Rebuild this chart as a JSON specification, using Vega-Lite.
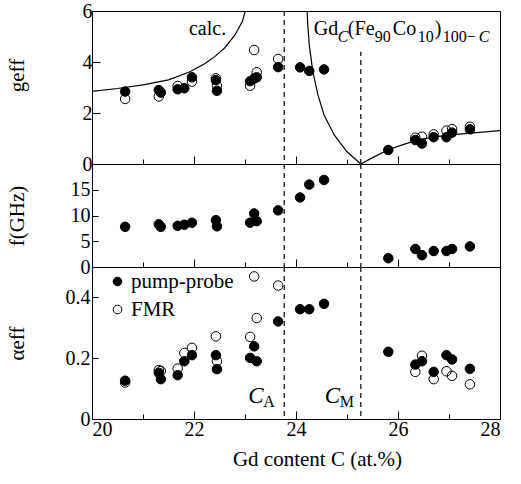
{
  "$schema": "https://vega.github.io/schema/vega-lite/v6.json",
  "padding": {"left": 5, "top": 0, "right": 5, "bottom": 5},
  "background": "white",
  "spacing": 0,
  "bounds": "flush",
  "config": {
    "font": "Liberation Serif",
    "view": {"stroke": "black", "strokeWidth": 1},
    "axis": {"labelFont": "Liberation Serif", "labelFontSize": 20, "titleFont": "Liberation Serif", "titleFontSize": 21, "titleFontWeight": "normal", "labelColor": "black", "titleColor": "black", "tickColor": "black", "domain": false, "grid": false},
    "legend": {"labelFont": "Liberation Serif", "labelFontSize": 21, "labelColor": "black"}
  },
  "resolve": {"scale": {"fill": "independent"}, "legend": {"fill": "independent"}},
  "datasets": {
    "g": [
      {"C": 20.65, "m": "pump-probe", "v": 2.84}, {"C": 21.31, "m": "pump-probe", "v": 2.90}, {"C": 21.35, "m": "pump-probe", "v": 2.80},
      {"C": 21.68, "m": "pump-probe", "v": 2.93}, {"C": 21.81, "m": "pump-probe", "v": 2.97}, {"C": 21.96, "m": "pump-probe", "v": 3.40},
      {"C": 22.43, "m": "pump-probe", "v": 3.29}, {"C": 22.45, "m": "pump-probe", "v": 2.87}, {"C": 23.10, "m": "pump-probe", "v": 3.25},
      {"C": 23.18, "m": "pump-probe", "v": 3.35}, {"C": 23.23, "m": "pump-probe", "v": 3.40}, {"C": 23.65, "m": "pump-probe", "v": 3.80},
      {"C": 24.08, "m": "pump-probe", "v": 3.79}, {"C": 24.26, "m": "pump-probe", "v": 3.65}, {"C": 24.55, "m": "pump-probe", "v": 3.71},
      {"C": 25.81, "m": "pump-probe", "v": 0.55}, {"C": 26.34, "m": "pump-probe", "v": 0.94}, {"C": 26.47, "m": "pump-probe", "v": 0.80},
      {"C": 26.70, "m": "pump-probe", "v": 1.05}, {"C": 26.95, "m": "pump-probe", "v": 1.05}, {"C": 27.06, "m": "pump-probe", "v": 1.23},
      {"C": 27.41, "m": "pump-probe", "v": 1.36},
      {"C": 20.65, "m": "FMR", "v": 2.55}, {"C": 21.31, "m": "FMR", "v": 2.65}, {"C": 21.68, "m": "FMR", "v": 3.06},
      {"C": 21.96, "m": "FMR", "v": 3.23}, {"C": 22.43, "m": "FMR", "v": 3.36}, {"C": 22.45, "m": "FMR", "v": 3.07},
      {"C": 23.10, "m": "FMR", "v": 3.07}, {"C": 23.18, "m": "FMR", "v": 4.47}, {"C": 23.23, "m": "FMR", "v": 3.60},
      {"C": 23.65, "m": "FMR", "v": 4.12}, {"C": 26.34, "m": "FMR", "v": 1.03}, {"C": 26.47, "m": "FMR", "v": 1.07},
      {"C": 26.70, "m": "FMR", "v": 1.16}, {"C": 26.95, "m": "FMR", "v": 1.31}, {"C": 27.06, "m": "FMR", "v": 1.37},
      {"C": 27.41, "m": "FMR", "v": 1.46}
    ],
    "f": [
      {"C": 20.65, "m": "pump-probe", "v": 7.8}, {"C": 21.31, "m": "pump-probe", "v": 8.3}, {"C": 21.35, "m": "pump-probe", "v": 7.8},
      {"C": 21.68, "m": "pump-probe", "v": 8.0}, {"C": 21.81, "m": "pump-probe", "v": 8.2}, {"C": 21.96, "m": "pump-probe", "v": 8.6},
      {"C": 22.43, "m": "pump-probe", "v": 9.1}, {"C": 22.45, "m": "pump-probe", "v": 7.9}, {"C": 23.10, "m": "pump-probe", "v": 8.6},
      {"C": 23.18, "m": "pump-probe", "v": 10.4}, {"C": 23.23, "m": "pump-probe", "v": 8.9}, {"C": 23.65, "m": "pump-probe", "v": 11.0},
      {"C": 24.08, "m": "pump-probe", "v": 13.5}, {"C": 24.26, "m": "pump-probe", "v": 16.0}, {"C": 24.55, "m": "pump-probe", "v": 16.9},
      {"C": 25.81, "m": "pump-probe", "v": 1.7}, {"C": 26.34, "m": "pump-probe", "v": 3.5}, {"C": 26.47, "m": "pump-probe", "v": 2.3},
      {"C": 26.70, "m": "pump-probe", "v": 3.1}, {"C": 26.95, "m": "pump-probe", "v": 3.1}, {"C": 27.06, "m": "pump-probe", "v": 3.5},
      {"C": 27.41, "m": "pump-probe", "v": 4.0}
    ],
    "alpha": [
      {"C": 20.65, "m": "pump-probe", "v": 0.126}, {"C": 21.31, "m": "pump-probe", "v": 0.152}, {"C": 21.35, "m": "pump-probe", "v": 0.131},
      {"C": 21.68, "m": "pump-probe", "v": 0.144}, {"C": 21.81, "m": "pump-probe", "v": 0.190}, {"C": 21.96, "m": "pump-probe", "v": 0.210},
      {"C": 22.43, "m": "pump-probe", "v": 0.210}, {"C": 22.45, "m": "pump-probe", "v": 0.164}, {"C": 23.10, "m": "pump-probe", "v": 0.201},
      {"C": 23.18, "m": "pump-probe", "v": 0.239}, {"C": 23.23, "m": "pump-probe", "v": 0.190}, {"C": 23.65, "m": "pump-probe", "v": 0.321},
      {"C": 24.08, "m": "pump-probe", "v": 0.361}, {"C": 24.26, "m": "pump-probe", "v": 0.361}, {"C": 24.55, "m": "pump-probe", "v": 0.379},
      {"C": 25.81, "m": "pump-probe", "v": 0.221}, {"C": 26.34, "m": "pump-probe", "v": 0.179}, {"C": 26.47, "m": "pump-probe", "v": 0.190},
      {"C": 26.70, "m": "pump-probe", "v": 0.155}, {"C": 26.95, "m": "pump-probe", "v": 0.210}, {"C": 27.06, "m": "pump-probe", "v": 0.196},
      {"C": 27.41, "m": "pump-probe", "v": 0.165},
      {"C": 20.65, "m": "FMR", "v": 0.120}, {"C": 21.31, "m": "FMR", "v": 0.161}, {"C": 21.35, "m": "FMR", "v": 0.158},
      {"C": 21.68, "m": "FMR", "v": 0.166}, {"C": 21.81, "m": "FMR", "v": 0.217}, {"C": 21.96, "m": "FMR", "v": 0.234},
      {"C": 22.43, "m": "FMR", "v": 0.272}, {"C": 22.45, "m": "FMR", "v": 0.190}, {"C": 23.10, "m": "FMR", "v": 0.270},
      {"C": 23.18, "m": "FMR", "v": 0.469}, {"C": 23.23, "m": "FMR", "v": 0.332}, {"C": 23.65, "m": "FMR", "v": 0.439},
      {"C": 26.34, "m": "FMR", "v": 0.155}, {"C": 26.47, "m": "FMR", "v": 0.208}, {"C": 26.70, "m": "FMR", "v": 0.131},
      {"C": 26.95, "m": "FMR", "v": 0.157}, {"C": 27.06, "m": "FMR", "v": 0.142}, {"C": 27.41, "m": "FMR", "v": 0.114}
    ],
    "calc": [
      {"branch": "low", "C": 20.0, "v": 2.85}, {"branch": "low", "C": 20.5, "v": 2.96}, {"branch": "low", "C": 21.0, "v": 3.10},
      {"branch": "low", "C": 21.5, "v": 3.30}, {"branch": "low", "C": 21.9, "v": 3.60}, {"branch": "low", "C": 22.2, "v": 3.92},
      {"branch": "low", "C": 22.4, "v": 4.20}, {"branch": "low", "C": 22.6, "v": 4.55}, {"branch": "low", "C": 22.8, "v": 5.05},
      {"branch": "low", "C": 22.95, "v": 5.6}, {"branch": "low", "C": 23.05, "v": 6.3},
      {"branch": "high", "C": 24.21, "v": 6.3}, {"branch": "high", "C": 24.23, "v": 5.5}, {"branch": "high", "C": 24.26, "v": 4.67},
      {"branch": "high", "C": 24.33, "v": 3.62}, {"branch": "high", "C": 24.43, "v": 2.71}, {"branch": "high", "C": 24.55, "v": 1.92},
      {"branch": "high", "C": 24.75, "v": 1.14}, {"branch": "high", "C": 25.0, "v": 0.48}, {"branch": "high", "C": 25.27, "v": 0.0},
      {"branch": "high", "C": 25.5, "v": 0.25}, {"branch": "high", "C": 25.8, "v": 0.55}, {"branch": "high", "C": 26.1, "v": 0.76},
      {"branch": "high", "C": 26.4, "v": 0.95}, {"branch": "high", "C": 26.8, "v": 1.08}, {"branch": "high", "C": 27.2, "v": 1.17},
      {"branch": "high", "C": 27.6, "v": 1.24}, {"branch": "high", "C": 28.0, "v": 1.31}
    ],
    "crit": [{"name": "A", "C": 23.77}, {"name": "M", "C": 25.27}],
    "formula": [
      {"t": "Gd", "k": "main"}, {"t": "C", "k": "subi"}, {"t": "(Fe", "k": "main"}, {"t": "90", "k": "sub"},
      {"t": "Co", "k": "main"}, {"t": "10", "k": "sub"}, {"t": ")", "k": "main"}, {"t": "100−", "k": "sub"}, {"t": "C", "k": "subi2"}
    ]
  },
  "vconcat": [
    {
      "width": 408, "height": 153,
      "layer": [
        {"data": {"name": "g"},
         "mark": {"type": "point", "shape": "circle", "filled": true, "stroke": "black", "strokeWidth": 1, "size": 90, "opacity": 1},
         "encoding": {
           "x": {"field": "C", "type": "quantitative", "scale": {"domain": [20, 28]},
                 "axis": {"values": [20, 21, 22, 23, 24, 25, 26, 27, 28], "labels": false, "title": null,
                          "tickSize": {"condition": {"test": "datum.value % 2 === 0", "value": -8}, "value": -5}}},
           "y": {"field": "v", "type": "quantitative", "scale": {"domain": [0, 6]},
                 "axis": {"title": "geff", "values": [0, 0.5, 1, 1.5, 2, 2.5, 3, 3.5, 4, 4.5, 5, 5.5, 6],
                          "labelExpr": "datum.value % 2 === 0 ? format(datum.value, 'd') : ''", "labelPadding": 8, "titleX": -65, "titleY": 64,
                          "tickSize": {"condition": {"test": "datum.value % 2 === 0", "value": -8}, "value": -4}}},
           "fill": {"field": "m", "type": "nominal", "scale": {"domain": ["pump-probe", "FMR"], "range": ["black", "transparent"]}, "legend": null}}},
        {"data": {"name": "crit"}, "transform": [{"filter": "datum.name === 'A'"}],
         "mark": {"type": "rule", "strokeDash": [5, 4], "color": "#333", "strokeWidth": 1.5},
         "encoding": {"x": {"field": "C", "type": "quantitative"}}},
        {"data": {"name": "crit"}, "transform": [{"filter": "datum.name === 'M'"}],
         "mark": {"type": "rule", "strokeDash": [5, 4], "color": "#333", "strokeWidth": 1.5},
         "encoding": {"x": {"field": "C", "type": "quantitative"}, "y": {"datum": 0}, "y2": {"datum": 4.4}}},
        {"data": {"name": "calc"}, "mark": {"type": "line", "clip": true, "color": "black", "strokeWidth": 1.2},
         "encoding": {"x": {"field": "C", "type": "quantitative"}, "y": {"field": "v", "type": "quantitative"}, "detail": {"field": "branch"}}},
        {"data": {"values": [{}]}, "mark": {"type": "text", "align": "right", "baseline": "alphabetic", "fontSize": 20, "font": "Liberation Serif"},
         "encoding": {"x": {"datum": 22.63}, "y": {"datum": 5.05}, "text": {"value": "calc."}}},
        {"data": {"name": "formula"}, "transform": [{"filter": "datum.t === 'Gd'"}],
         "mark": {"type": "text", "align": "left", "baseline": "alphabetic", "fontSize": 20, "font": "Liberation Serif"},
         "encoding": {"x": {"datum": 24.35}, "y": {"datum": 5.06}, "text": {"field": "t"}}},
        {"data": {"name": "formula"}, "transform": [{"filter": "datum.t === '(Fe'"}],
         "mark": {"type": "text", "align": "left", "baseline": "alphabetic", "fontSize": 20, "font": "Liberation Serif", "dx": 34},
         "encoding": {"x": {"datum": 24.35}, "y": {"datum": 5.06}, "text": {"field": "t"}}},
        {"data": {"name": "formula"}, "transform": [{"filter": "datum.t === 'Co'"}],
         "mark": {"type": "text", "align": "left", "baseline": "alphabetic", "fontSize": 20, "font": "Liberation Serif", "dx": 79},
         "encoding": {"x": {"datum": 24.35}, "y": {"datum": 5.06}, "text": {"field": "t"}}},
        {"data": {"name": "formula"}, "transform": [{"filter": "datum.t === ')'"}],
         "mark": {"type": "text", "align": "left", "baseline": "alphabetic", "fontSize": 20, "font": "Liberation Serif", "dx": 121},
         "encoding": {"x": {"datum": 24.35}, "y": {"datum": 5.06}, "text": {"field": "t"}}},
        {"data": {"name": "formula"}, "transform": [{"filter": "datum.k === 'subi'"}],
         "mark": {"type": "text", "align": "left", "baseline": "alphabetic", "fontSize": 16, "fontStyle": "italic", "font": "Liberation Serif", "dx": 24, "dy": 7},
         "encoding": {"x": {"datum": 24.35}, "y": {"datum": 5.06}, "text": {"field": "t"}}},
        {"data": {"name": "formula"}, "transform": [{"filter": "datum.t === '90'"}],
         "mark": {"type": "text", "align": "left", "baseline": "alphabetic", "fontSize": 16, "font": "Liberation Serif", "dx": 61, "dy": 7},
         "encoding": {"x": {"datum": 24.35}, "y": {"datum": 5.06}, "text": {"field": "t"}}},
        {"data": {"name": "formula"}, "transform": [{"filter": "datum.t === '10'"}],
         "mark": {"type": "text", "align": "left", "baseline": "alphabetic", "fontSize": 16, "font": "Liberation Serif", "dx": 104, "dy": 7},
         "encoding": {"x": {"datum": 24.35}, "y": {"datum": 5.06}, "text": {"field": "t"}}},
        {"data": {"name": "formula"}, "transform": [{"filter": "datum.t === '100−'"}],
         "mark": {"type": "text", "align": "left", "baseline": "alphabetic", "fontSize": 16, "font": "Liberation Serif", "dx": 129, "dy": 7},
         "encoding": {"x": {"datum": 24.35}, "y": {"datum": 5.06}, "text": {"field": "t"}}},
        {"data": {"name": "formula"}, "transform": [{"filter": "datum.k === 'subi2'"}],
         "mark": {"type": "text", "align": "left", "baseline": "alphabetic", "fontSize": 16, "fontStyle": "italic", "font": "Liberation Serif", "dx": 165, "dy": 7},
         "encoding": {"x": {"datum": 24.35}, "y": {"datum": 5.06}, "text": {"field": "t"}}}
      ]
    },
    {
      "width": 408, "height": 103,
      "layer": [
        {"data": {"name": "f"},
         "mark": {"type": "point", "shape": "circle", "filled": true, "stroke": "black", "strokeWidth": 1, "size": 90, "opacity": 1},
         "encoding": {
           "x": {"field": "C", "type": "quantitative", "scale": {"domain": [20, 28]},
                 "axis": {"values": [20, 21, 22, 23, 24, 25, 26, 27, 28], "labels": false, "title": null,
                          "tickSize": {"condition": {"test": "datum.value % 2 === 0", "value": -8}, "value": -5}}},
           "y": {"field": "v", "type": "quantitative", "scale": {"domain": [0, 20]},
                 "axis": {"title": "f(GHz)", "values": [0, 5, 10, 15], "labelPadding": 8, "titleX": -65, "tickSize": -6}},
           "fill": {"field": "m", "type": "nominal", "scale": {"domain": ["pump-probe", "FMR"], "range": ["black", "transparent"]}, "legend": null}}},
        {"data": {"name": "crit"},
         "mark": {"type": "rule", "strokeDash": [5, 4], "color": "#333", "strokeWidth": 1.5},
         "encoding": {"x": {"field": "C", "type": "quantitative"}}}
      ]
    },
    {
      "width": 408, "height": 152,
      "layer": [
        {"data": {"name": "alpha"},
         "mark": {"type": "point", "shape": "circle", "filled": true, "stroke": "black", "strokeWidth": 1, "size": 90, "opacity": 1},
         "encoding": {
           "x": {"field": "C", "type": "quantitative", "scale": {"domain": [20, 28]},
                 "axis": {"values": [20, 21, 22, 23, 24, 25, 26, 27, 28], "title": "Gd content C (at.%)", "titlePadding": 9, "titleX": 225,
                          "labelExpr": "datum.value % 2 === 0 ? format(datum.value, 'd') : ''", "labelPadding": 8,
                          "tickSize": {"condition": {"test": "datum.value % 2 === 0", "value": -8}, "value": -5}}},
           "y": {"field": "v", "type": "quantitative", "scale": {"domain": [0, 0.5]},
                 "axis": {"title": "αeff", "values": [0, 0.1, 0.2, 0.3, 0.4],
                          "labelExpr": "datum.value === 0 ? '0' : (abs(datum.value - 0.2) < 1e-6 || abs(datum.value - 0.4) < 1e-6) ? format(datum.value, '.1f') : ''",
                          "labelPadding": 8, "titleX": -65, "tickSize": -6}},
           "fill": {"field": "m", "type": "nominal", "scale": {"domain": ["pump-probe", "FMR"], "range": ["black", "transparent"]},
                    "legend": {"title": null, "orient": "none", "legendX": 15, "legendY": 4, "symbolSize": 75, "symbolStrokeColor": "black", "symbolStrokeWidth": 1, "rowPadding": 6, "labelOffset": 3, "labelFontSize": 21}}}},
        {"data": {"name": "crit"},
         "mark": {"type": "rule", "strokeDash": [5, 4], "color": "#333", "strokeWidth": 1.5},
         "encoding": {"x": {"field": "C", "type": "quantitative"}}},
        {"data": {"name": "crit"}, "mark": {"type": "text", "align": "left", "baseline": "alphabetic", "fontSize": 23, "fontStyle": "italic", "font": "Liberation Serif", "dx": -36},
         "encoding": {"x": {"field": "C", "type": "quantitative"}, "y": {"datum": 0.052}, "text": {"value": "C"}}},
        {"data": {"name": "crit"}, "mark": {"type": "text", "align": "left", "baseline": "alphabetic", "fontSize": 16, "font": "Liberation Serif", "dx": -21, "dy": 4},
         "encoding": {"x": {"field": "C", "type": "quantitative"}, "y": {"datum": 0.052}, "text": {"field": "name"}}}
      ]
    }
  ]
}
